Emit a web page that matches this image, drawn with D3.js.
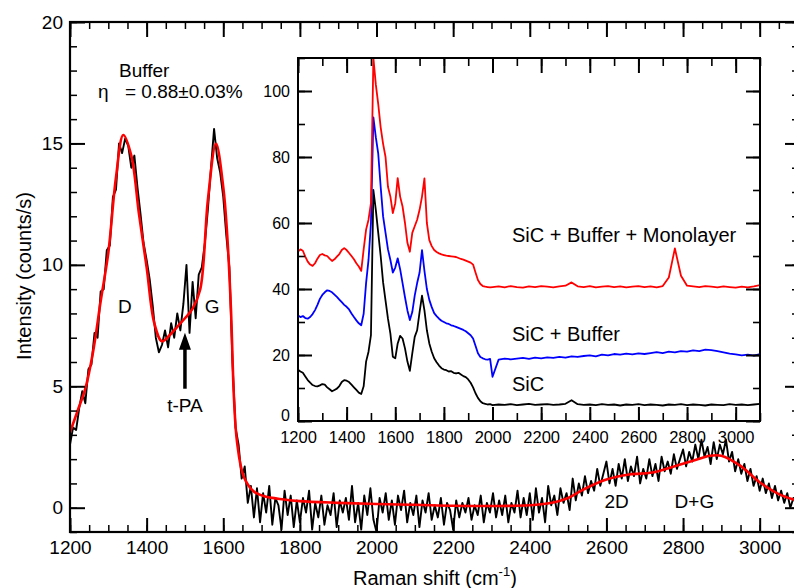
<!DOCTYPE html>
<html><head><meta charset="utf-8">
<script src="https://cdn.jsdelivr.net/npm/d3@7"></script>
<style>
body{margin:0;background:#fff}
svg{display:block}
text{font-family:"Liberation Sans",Arial,sans-serif;fill:#000}
</style>
</head><body>
<svg id="c" width="794" height="588"></svg>
<script>
// ---------------- DATA ----------------
// Main spectrum (buffer layer): sample positions every 8 cm-1 from 1200 to 3096
const mainX = d3.range(1200, 3100, 8);
const mainCounts = [
 2.6,3.3,3.2,4.1,4.8,4.3,5.7,5.9,7.2,7.0,8.9,9.0,10.6,10.8,12.8,13.1,15.0,14.6,15.2,14.9,14.0,14.5,13.2,12.1,10.9,
 10.2,9.4,8.3,7.0,6.4,6.7,7.3,6.6,7.6,7.0,8.0,7.3,8.4,10.0,7.2,9.3,7.8,9.6,9.9,10.9,12.3,14.0,15.6,14.4,13.8,
 12.8,11.2,9.9,6.0,3.3,2.6,1.2,1.7,0.2,0.9,-0.4,0.8,-0.6,0.6,-0.2,0.9,-0.7,0.4,0.1,-0.9,0.7,-0.3,0.5,-0.8,0.3,
 -0.6,0.4,-0.2,0.7,-0.9,0.2,-0.4,0.5,-0.7,0.1,-0.3,0.6,-0.8,0.3,-0.2,0.4,-0.5,0.9,-0.6,0.2,-0.9,0.5,-0.3,0.8,-0.5,
 -1.0,0.4,-0.2,0.6,-0.5,0.3,-0.7,0.5,-0.1,0.7,-0.6,0.2,-0.3,0.5,-0.8,0.3,-0.2,0.6,-0.5,0.1,-0.4,0.4,-0.7,0.2,-0.1,
 -0.9,0.3,-0.4,0.2,-0.2,0.4,-0.5,0.1,-0.3,0.5,-0.6,0.2,-0.2,0.6,-0.4,0.3,-0.3,0.5,-0.6,0.2,-0.2,0.7,-0.4,0.4,-0.3,
 0.6,-0.5,0.8,-0.2,0.4,-0.6,0.9,0.1,0.5,-0.3,0.8,0.2,0.6,-0.1,1.2,0.3,1.0,0.5,1.3,0.6,1.1,0.7,1.6,0.9,1.4,
 1.9,1.0,1.6,0.9,1.8,1.2,2.0,1.1,1.7,1.3,2.1,1.0,1.6,1.2,2.0,1.3,1.8,1.1,2.1,1.5,1.9,1.4,2.2,1.6,2.0,
 2.4,1.7,2.3,1.9,2.6,2.0,2.8,2.1,2.5,1.8,2.7,2.0,2.6,2.2,2.8,1.9,2.3,1.5,2.0,1.4,1.8,1.1,1.6,0.9,1.3,
 0.7,1.2,0.6,1.0,0.4,0.9,0.3,0.7,0.2,0.6,0.0,0.4,0.1
];
// Fit curve
const fitX = [1200,1220,1240,1260,1280,1300,1320,1339,1360,1380,1400,1420,1440,1460,1480,1500,1520,1540,1560,1581,1600,1610,1620,1628,1636,1653,1679,1705,1758,1800,1900,2000,2100,2200,2300,2400,2450,2500,2540,2600,2660,2720,2780,2830,2870,2900,2950,3000,3050,3100];
const fitY = [3.1,4.0,4.9,6.4,8.5,10.5,13.6,15.35,14.5,12.1,9.9,7.6,6.85,7.1,7.45,7.8,8.2,9.0,12.7,15.0,13.2,11.3,8.2,4.5,2.7,1.3,0.68,0.48,0.34,0.27,0.2,0.15,0.12,0.08,0.07,0.1,0.18,0.4,0.75,1.16,1.37,1.45,1.72,1.95,2.14,2.14,1.72,1.05,0.56,0.28];

// Inset spectra: every 10 cm-1 to 2000, then every 25 cm-1
const insetX = d3.range(1200, 2001, 10).concat(d3.range(2025, 3101, 25));
const sicOnly = [
 15.5,15.0,14.6,13.5,12.4,11.6,10.9,10.6,10.5,10.8,
 11.2,11.0,10.2,9.6,9.0,9.4,9.8,10.6,11.8,12.4,
 12.2,11.8,11.0,10.2,9.4,8.6,8.2,10.5,18.0,21.0,
 26.0,70.0,64.0,57.0,50.0,42.0,36.5,31.0,26.5,19.5,
 19.0,23.5,25.8,25.0,22.0,18.0,15.2,20.5,25.5,27.5,
 33.0,38.0,33.5,27.5,23.5,21.0,19.0,17.8,16.8,16.0,
 15.6,15.4,15.0,15.1,14.6,14.4,14.6,14.1,13.6,13.3,
 12.6,11.6,10.2,8.4,7.0,6.0,5.4,5.2,5.0,5.1,
 4.8,
 5.0,4.9,5.1,4.8,5.0,5.2,4.9,5.0,5.1,4.9,5.0,5.2,6.3,5.1,4.9,5.0,4.8,5.1,4.9,5.0,4.7,5.0,
 4.9,5.1,4.8,5.0,4.9,4.7,5.0,4.9,5.1,4.8,5.0,4.9,4.7,5.0,4.9,4.8,5.1,4.9,5.0,4.8,5.0,5.2
];
const sicBuffer = [
 32.0,31.5,31.8,31.2,31.0,31.5,32.4,33.6,35.2,37.0,
 38.2,39.0,39.6,39.4,39.0,38.3,37.6,36.8,36.0,35.2,
 34.6,33.8,32.6,31.5,30.5,29.6,29.0,32.5,41.8,48.8,
 60.0,92.0,86.0,81.0,71.0,62.0,57.0,52.0,48.8,45.0,
 46.5,49.3,46.0,41.8,37.5,33.5,30.6,33.0,38.0,41.8,
 45.0,51.8,45.5,40.0,36.7,34.5,32.7,31.8,31.0,30.4,
 30.0,29.6,29.4,29.0,28.8,28.5,28.2,27.9,27.6,27.2,
 26.6,26.0,25.0,22.8,20.5,19.4,19.0,18.7,18.6,18.8,
 13.4,
 18.6,18.9,18.7,18.9,19.1,18.8,19.2,19.0,19.3,19.1,19.4,19.2,19.6,19.4,19.7,19.9,19.6,20.1,19.9,20.3,20.1,20.4,
 20.2,20.5,20.3,20.6,20.9,20.6,21.0,20.8,21.2,21.0,21.4,21.2,21.6,21.5,21.2,20.8,20.4,20.2,19.9,20.1,19.8,20.3
];
const sicBufferMono = [
 51.3,52.0,51.6,49.8,48.3,47.4,47.0,47.8,49.2,50.3,
 50.6,50.2,50.0,49.2,48.5,49.0,49.8,50.6,51.8,52.4,
 51.8,50.9,50.0,49.0,47.8,46.8,45.5,52.0,58.0,61.0,
 66.0,110.0,102.0,96.0,89.0,84.0,80.0,71.0,68.0,63.0,
 66.0,73.6,68.0,65.0,60.0,54.0,51.3,57.0,59.0,61.0,
 64.0,68.0,73.5,60.0,54.8,53.0,51.8,51.2,50.8,50.5,
 50.3,50.1,50.0,49.9,49.8,49.7,49.4,49.1,48.9,48.6,
 48.3,48.0,47.4,45.0,42.7,41.5,40.9,40.7,40.6,40.5,
 40.6,
 40.8,40.5,40.9,40.6,40.4,40.8,40.6,40.9,40.7,40.5,40.8,41.0,42.0,40.8,40.6,40.9,40.5,40.7,40.9,40.6,40.8,40.5,
 40.7,40.9,40.6,40.8,40.5,40.9,43.5,52.3,44.0,41.0,40.8,40.6,40.9,40.7,40.5,40.8,40.6,40.4,40.7,40.5,40.8,41.2
];
const insetSeries = [
  {name:"SiC", values:sicOnly, color:"#000000"},
  {name:"SiC + Buffer", values:sicBuffer, color:"#0000ff"},
  {name:"SiC + Buffer + Monolayer", values:sicBufferMono, color:"#ff0000"}
];

const mainXTicks = d3.range(1200, 3001, 200);
const mainXMinor = d3.range(1200, 3101, 50);
const mainYTicks = [0,5,10,15,20];
const mainYMinor = d3.range(-1, 21, 1);
const insetXTicks = d3.range(1200, 3001, 200);
const insetXMinor = d3.range(1200, 3101, 100);
const insetYTicks = [0,20,40,60,80,100];
const insetYMinor = d3.range(0, 111, 10);

// ---------------- DRAW ----------------
const svg = d3.select("#c");
const x = d3.scaleLinear().domain([1200,3100]).range([70,798]);
const y = d3.scaleLinear().domain([-1,20]).range([532,22]);

const defs = svg.append("defs");
defs.append("clipPath").attr("id","mclip").append("rect")
  .attr("x",70).attr("y",22).attr("width",728).attr("height",510);

function tickAxis(gen, tr, vals, size, fmt, pad, fs, sw){
  const g = svg.append("g").attr("transform", tr)
    .call(gen.tickValues(vals).tickSize(-size).tickSizeOuter(0).tickPadding(pad).tickFormat(fmt));
  g.select(".domain").remove();
  g.selectAll(".tick line").attr("stroke","#000").attr("stroke-width",sw);
  g.selectAll(".tick text").attr("font-size",fs).attr("font-family","Liberation Sans, Arial, sans-serif").attr("fill","#000");
  return g;
}
const none = () => "";

// main data
const gData = svg.append("g").attr("clip-path","url(#mclip)");
const mainPts = mainX.map((v,i)=>[v, mainCounts[i]]);
gData.append("path").datum(mainPts)
  .attr("d", d3.line().x(d=>x(d[0])).y(d=>y(d[1])))
  .attr("fill","none").attr("stroke","#000").attr("stroke-width",1.9).attr("stroke-linejoin","round");
const fitPts = fitX.map((v,i)=>[v, fitY[i]]);
gData.append("path").datum(fitPts)
  .attr("d", d3.line().curve(d3.curveCatmullRom.alpha(0.5)).x(d=>x(d[0])).y(d=>y(d[1])))
  .attr("fill","none").attr("stroke","#ff0000").attr("stroke-width",2.6);

// main axes
tickAxis(d3.axisBottom(x), "translate(0,532)", mainXMinor, 7, none, 0, 0, 1.5);
tickAxis(d3.axisBottom(x), "translate(0,532)", mainXTicks, 14, d3.format("d"), 9, 19, 2);
tickAxis(d3.axisTop(x), "translate(0,22)", mainXMinor, 7, none, 0, 0, 1.5);
tickAxis(d3.axisTop(x), "translate(0,22)", mainXTicks, 15, none, 0, 0, 2);
tickAxis(d3.axisLeft(y), "translate(70,0)", mainYMinor, 7, none, 0, 0, 1.5);
tickAxis(d3.axisLeft(y), "translate(70,0)", mainYTicks, 15, d3.format("d"), 7, 19, 2);
tickAxis(d3.axisRight(y), "translate(798,0)", mainYMinor, 6, none, 0, 0, 1.5);
tickAxis(d3.axisRight(y), "translate(798,0)", mainYTicks, 13, none, 0, 0, 2);
svg.append("rect").attr("x",70).attr("y",22).attr("width",728).attr("height",510)
  .attr("fill","none").attr("stroke","#000").attr("stroke-width",2.2);

// axis titles
svg.append("text").attr("transform","translate(31,276) rotate(-90)")
  .attr("text-anchor","middle").attr("font-size",20).text("Intensity (counts/s)");
const xt = svg.append("text").attr("x",353).attr("y",585).attr("font-size",20);
xt.append("tspan").text("Raman shift (cm");
xt.append("tspan").attr("font-size",13).attr("dy",-9).text("-1");
xt.append("tspan").attr("dy",9).text(")");

// annotations main
svg.append("text").attr("x",119).attr("y",77).attr("font-size",19).text("Buffer");
svg.append("text").attr("x",98).attr("y",98).attr("font-size",19).text("η");
svg.append("text").attr("x",125).attr("y",98).attr("font-size",19).text("= 0.88±0.03%");
svg.append("text").attr("x",x(1325)).attr("y",313).attr("font-size",19).text("D");
svg.append("text").attr("x",x(1552)).attr("y",313).attr("font-size",19).text("G");
svg.append("text").attr("x",x(1500)).attr("y",412).attr("text-anchor","middle").attr("font-size",19).text("t-PA");
svg.append("text").attr("x",x(2595)).attr("y",508).attr("font-size",19).text("2D");
svg.append("text").attr("x",x(2778)).attr("y",508).attr("font-size",19).text("D+G");
const ax = x(1500);
svg.append("line").attr("x1",ax).attr("x2",ax).attr("y1",y(4.9)).attr("y2",y(6.6))
  .attr("stroke","#000").attr("stroke-width",3.5);
svg.append("path").attr("d",`M${ax},${y(7.2)} L${ax-6},${y(6.5)} L${ax+6},${y(6.5)} Z`).attr("fill","#000");

// ---------------- INSET ----------------
const ix = d3.scaleLinear().domain([1200,3100]).range([298,760]);
const iy = d3.scaleLinear().domain([0,110]).range([421,58]);
svg.append("rect").attr("x",298).attr("y",58).attr("width",462).attr("height",363).attr("fill","#fff");
defs.append("clipPath").attr("id","iclip").append("rect")
  .attr("x",298).attr("y",58).attr("width",462).attr("height",363);
const gi = svg.append("g").attr("clip-path","url(#iclip)");
insetSeries.forEach(s=>{
  gi.append("path").datum(insetX.map((v,i)=>[v, s.values[i]]))
    .attr("d", d3.line().x(d=>ix(d[0])).y(d=>iy(d[1])))
    .attr("fill","none").attr("stroke",s.color).attr("stroke-width",1.8).attr("stroke-linejoin","round");
});
tickAxis(d3.axisBottom(ix), "translate(0,421)", insetXMinor, 8, none, 0, 0, 1.6);
tickAxis(d3.axisBottom(ix), "translate(0,421)", insetXTicks, 14, d3.format("d"), 10, 16.5, 2);
tickAxis(d3.axisTop(ix), "translate(0,58)", insetXMinor, 8, none, 0, 0, 1.6);
tickAxis(d3.axisTop(ix), "translate(0,58)", insetXTicks, 15, none, 0, 0, 2);
tickAxis(d3.axisLeft(iy), "translate(298,0)", insetYMinor, 7, none, 0, 0, 1.6);
const iyAx = tickAxis(d3.axisLeft(iy), "translate(298,0)", insetYTicks, 14, d3.format("d"), 8, 16, 2);
iyAx.selectAll(".tick text").filter(d => d === 0).attr("dy", "-0.05em");
tickAxis(d3.axisRight(iy), "translate(760,0)", insetYMinor, 7, none, 0, 0, 1.6);
tickAxis(d3.axisRight(iy), "translate(760,0)", insetYTicks, 14, none, 0, 0, 2);
svg.append("rect").attr("x",298).attr("y",58).attr("width",462).attr("height",363)
  .attr("fill","none").attr("stroke","#000").attr("stroke-width",2);

// inset labels
svg.append("text").attr("x",512).attr("y",242).attr("font-size",20).text("SiC + Buffer + Monolayer");
svg.append("text").attr("x",512).attr("y",341).attr("font-size",20).text("SiC + Buffer");
svg.append("text").attr("x",512).attr("y",391).attr("font-size",20).text("SiC");
</script>
</body></html>
